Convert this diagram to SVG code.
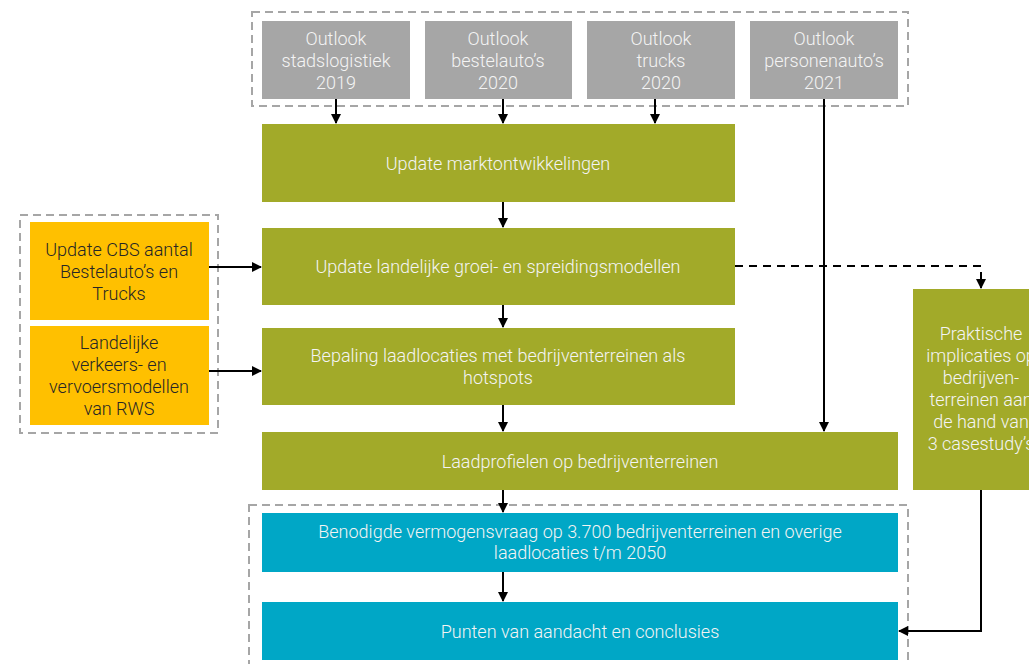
<svg xmlns="http://www.w3.org/2000/svg" width="1029" height="664" viewBox="0 0 1029 664">
<style>
.grp{fill:none;stroke:#A6A6A6;stroke-width:2;stroke-dasharray:8,5}
.gray{fill:#A6A6A6}
.green{fill:#A2AA29}
.orange{fill:#FFC000}
.blue{fill:#00A7C6}
text{font-family:Roboto,"Liberation Sans",Arial,sans-serif;font-size:18px;font-weight:300;text-anchor:middle}
.w{fill:#F4F4F4}
.d{fill:#262626}
.c{fill:none;stroke:#000;stroke-width:2}
.dash{stroke-dasharray:8,6}
</style>
<defs>
<marker id="ah" markerWidth="10" markerHeight="10" refX="9" refY="5" orient="auto" markerUnits="userSpaceOnUse">
<path d="M0,0 L10,5 L0,10 Z" fill="#000"/>
</marker>
</defs>
<rect class="grp" x="252" y="12" width="656" height="94"/>
<rect class="grp" x="20" y="215" width="198" height="218"/>
<rect class="grp" x="249" y="505" width="659" height="170"/>
<g id="n-stad"><rect class="gray" x="262" y="21" width="148" height="78"/><text class="w" x="336" y="45">Outlook</text><text class="w" x="336" y="67">stadslogistiek</text><text class="w" x="336" y="89">2019</text></g>
<g id="n-best"><rect class="gray" x="425" y="21" width="147" height="78"/><text class="w" x="498" y="45">Outlook</text><text class="w" x="498" y="67">bestelauto’s</text><text class="w" x="498" y="89">2020</text></g>
<g id="n-trucks"><rect class="gray" x="587" y="21" width="148" height="78"/><text class="w" x="661" y="45">Outlook</text><text class="w" x="661" y="67">trucks</text><text class="w" x="661" y="89">2020</text></g>
<g id="n-pers"><rect class="gray" x="750" y="21" width="148" height="78"/><text class="w" x="824" y="45">Outlook</text><text class="w" x="824" y="67">personenauto’s</text><text class="w" x="824" y="89">2021</text></g>
<g id="n-markt"><rect class="green" x="262" y="124" width="473" height="78"/><text class="w" x="498" y="170">Update marktontwikkelingen</text></g>
<g id="n-groei"><rect class="green" x="262" y="228" width="473" height="77"/><text class="w" x="498" y="273">Update landelijke groei- en spreidingsmodellen</text></g>
<g id="n-bepaling"><rect class="green" x="262" y="328" width="473" height="77"/><text class="w" x="498" y="362">Bepaling laadlocaties met bedrijventerreinen als</text><text class="w" x="498" y="384">hotspots</text></g>
<g id="n-profielen"><rect class="green" x="262" y="432" width="636" height="58"/><text class="w" x="580" y="468">Laadprofielen op bedrijventerreinen</text></g>
<g id="n-vermogen"><rect class="blue" x="262" y="513" width="636" height="59"/><text class="w" x="580" y="538">Benodigde vermogensvraag op 3.700 bedrijventerreinen en overige</text><text class="w" x="580" y="559">laadlocaties t/m 2050</text></g>
<g id="n-punten"><rect class="blue" x="262" y="602" width="636" height="58"/><text class="w" x="580" y="638">Punten van aandacht en conclusies</text></g>
<g id="n-cbs"><rect class="orange" x="30" y="222" width="179" height="98"/><text class="d" x="119" y="256">Update CBS aantal</text><text class="d" x="119" y="278">Bestelauto’s en</text><text class="d" x="119" y="300">Trucks</text></g>
<g id="n-rws"><rect class="orange" x="30" y="326" width="179" height="99"/><text class="d" x="119" y="349">Landelijke</text><text class="d" x="119" y="371">verkeers- en</text><text class="d" x="119" y="393">vervoersmodellen</text><text class="d" x="119" y="415">van RWS</text></g>
<g id="n-praktisch"><rect class="green" x="913" y="289" width="140" height="201"/><text class="w" x="981" y="340">Praktische</text><text class="w" x="981" y="362">implicaties op</text><text class="w" x="981" y="384">bedrijven-</text><text class="w" x="981" y="406">terreinen aan</text><text class="w" x="981" y="428">de hand van</text><text class="w" x="981" y="450">3 casestudy’s</text></g>
<g id="connectors">
<line class="c" x1="336" y1="99" x2="336" y2="123" marker-end="url(#ah)"/>
<line class="c" x1="503" y1="99" x2="503" y2="123" marker-end="url(#ah)"/>
<line class="c" x1="655" y1="99" x2="655" y2="123" marker-end="url(#ah)"/>
<line class="c" x1="824" y1="99" x2="824" y2="431" marker-end="url(#ah)"/>
<line class="c" x1="503" y1="202" x2="503" y2="227" marker-end="url(#ah)"/>
<line class="c" x1="503" y1="305" x2="503" y2="327" marker-end="url(#ah)"/>
<line class="c" x1="503" y1="405" x2="503" y2="431" marker-end="url(#ah)"/>
<line class="c" x1="503" y1="490" x2="503" y2="512" marker-end="url(#ah)"/>
<line class="c" x1="503" y1="572" x2="503" y2="601" marker-end="url(#ah)"/>
<line class="c" x1="209" y1="267" x2="261" y2="267" marker-end="url(#ah)"/>
<line class="c" x1="209" y1="371" x2="261" y2="371" marker-end="url(#ah)"/>
<polyline class="c dash" points="735,266 981,266 981,288" marker-end="url(#ah)"/>
<polyline class="c" points="981,490 981,631 899,631" marker-end="url(#ah)"/>
</g>
</svg>
